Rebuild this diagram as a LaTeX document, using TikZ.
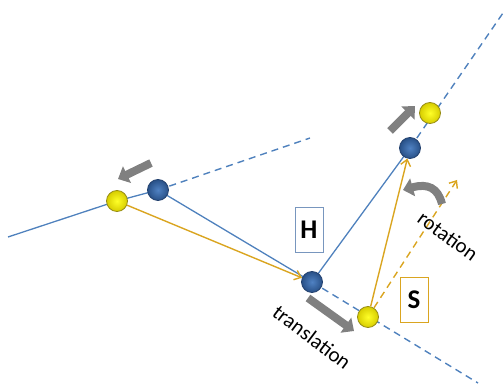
\documentclass[tikz,border=0pt]{standalone}
\usepackage{fontspec}
\setmainfont{Carlito}
\usetikzlibrary{arrows.meta,backgrounds}

\definecolor{lineblue}{RGB}{79,129,189}
\definecolor{ballcore}{RGB}{80,130,195}
\definecolor{ballrim}{RGB}{40,80,135}
\definecolor{balledge}{RGB}{35,65,110}
\definecolor{gold}{RGB}{218,165,32}
\definecolor{yellowcore}{RGB}{255,255,40}
\definecolor{yellowrim}{RGB}{215,205,0}
\definecolor{yellowedge}{RGB}{150,140,20}
\definecolor{boxblue}{RGB}{120,150,190}
\definecolor{movegray}{RGB}{128,128,128}

\tikzset{
  bluepos/.style={circle, inner sep=0pt, minimum size=21pt, draw=balledge,
    line width=0.8pt, shading=radial, inner color=ballcore, outer color=ballrim},
  yellowpos/.style={circle, inner sep=0pt, minimum size=21pt, draw=yellowedge,
    line width=0.8pt, shading=radial, inner color=yellowcore, outer color=yellowrim},
  limb/.style={draw=lineblue, line width=1.3pt},
  guide/.style={draw=lineblue, line width=1.4pt, dash pattern=on 7pt off 5pt},
  pull/.style={draw=gold, line width=1.4pt,
    -{Straight Barb[length=6pt,width=10pt,line width=1.4pt]}},
  pulldash/.style={pull, dash pattern=on 7pt off 5pt},
  motion/.style={draw=movegray, line width=8pt,
    -{Triangle[length=10pt,width=18pt]}},
  letterbox/.style={draw, line width=1pt, fill=white, minimum width=28pt,
    minimum height=45pt, inner sep=0pt, font=\fontsize{27}{30}\selectfont\bfseries},
  caption/.style={font=\fontsize{21}{24}\selectfont, inner sep=0pt}
}

\begin{document}
\begin{tikzpicture}[x=1pt,y=-1pt]
\useasboundingbox (0,0) rectangle (504,387);

% joint positions
\node[bluepos]   (B1) at (158,190) {};
\node[bluepos]   (H)  at (312,282) {};
\node[bluepos]   (B2) at (410,148) {};
\node[yellowpos] (Y1) at (117,201) {};
\node[yellowpos] (Y2) at (430,113) {};
\node[yellowpos] (S)  at (368,317) {};

% free ends of the lines
\coordinate (L)  at (8,237);
\coordinate (D1) at (310,138);
\coordinate (D2) at (503,13);
\coordinate (D3) at (478,383);
\coordinate (R)  at (457,180);

\begin{scope}[on background layer]
  % chain segments
  \draw[limb] (L) -- (Y1.center) -- (B1.center);
  \draw[limb] (B1.center) -- (H.center) -- (B2.center);
  % extensions
  \draw[guide] (B1.center) -- (D1);
  \draw[guide] (B2.center) -- (D2);
  \draw[guide] (H.center) -- (D3);
\end{scope}

% displacement vectors
\draw[pull] (Y1) -- (H);
\draw[pull] (S) -- (B2);
\draw[pulldash] (S) -- (R);

% motion arrows
\coordinate (m1a) at (151,163); \coordinate (m1b) at (118,179);
\coordinate (m2a) at (390,131); \coordinate (m2b) at (415,106);
\coordinate (m3a) at (308,298); \coordinate (m3b) at (354,331);
\coordinate (m4a) at (442,204); \coordinate (m4b) at (403,190);
\draw[motion] (m1a) -- (m1b);
\draw[motion] (m2a) -- (m2b);
\draw[motion] (m3a) -- (m3b);
\draw[motion] (m4a) .. controls (438,188) and (428,183) .. (m4b);

% labels
\node[letterbox, draw=boxblue] (Hl) at (309,230) {H};
\node[letterbox, draw=gold]    (Sl) at (414,300) {S};
\node[caption, rotate=-36] (rot) at (448,236) {rotation};
\node[caption, rotate=-37] (tra) at (312,337) {translation};
\end{tikzpicture}
\end{document}
